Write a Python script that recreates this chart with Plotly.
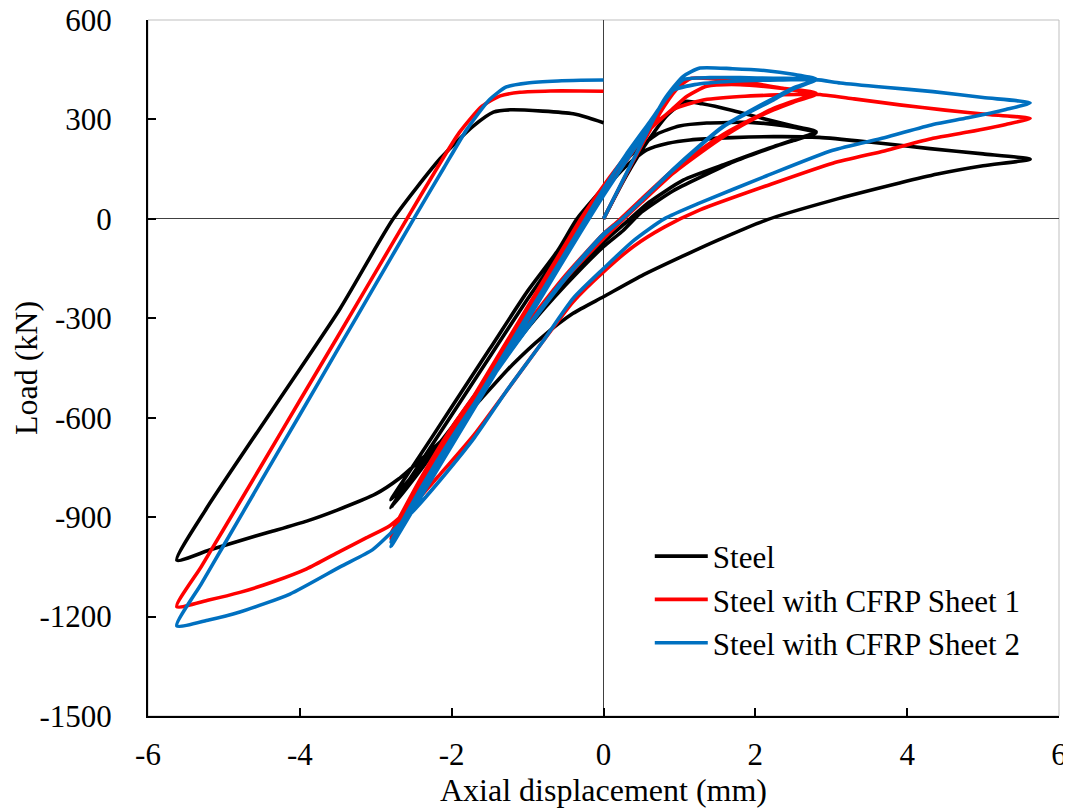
import plotly.graph_objects as go

# ---------------- data ----------------
# Steel: initial tension, two cycles at +/-2.8 mm, one cycle at +/-5.6 mm, return to 0
STEEL_X = [0, 0.3, 0.6, 0.85, 1.08, 1.3, 1.7, 2.1, 2.5, 2.8,
           2.5, 2.2, 1.71, 1.3, 0.92, 0.5, 0.26, 0, -0.5, -1.0, -1.5, -2.0, -2.4, -2.8,
           -2.5, -2.0, -1.5, -1.0, -0.6, -0.35, 0, 0.35, 0.7, 1.0, 1.36, 1.93, 2.4, 2.8,
           2.5, 2.24, 1.6, 1.05, 0.6, 0.3, 0, -0.5, -1.0, -1.5, -2.0, -2.4, -2.8,
           -2.5, -2.0, -1.5, -1.0, -0.6, -0.3, 0, 0.3, 0.57, 0.85, 1.14, 1.7, 2.24, 2.84,
           3.5, 4.3, 5.0, 5.62,
           5.0, 4.4, 3.9, 3.0, 2.15, 1.5, 1.05, 0.5, 0, -0.4, -0.8, -1.2, -1.6, -2.0, -2.4,
           -2.7, -3.0, -3.5, -3.91, -4.4, -4.79, -5.2, -5.62,
           -5.23, -4.35, -3.47, -2.77, -2.15, -1.72, -1.45, -1.23, -0.8, -0.4, -0.2, 0]
STEEL_Y = [0, 130, 240, 315, 354, 347, 327, 303, 280, 263,
           238, 214, 172, 128, 85, 20, -35, -84, -200, -330, -480, -630, -745, -848,
           -743, -568, -393, -218, -95, 0, 95, 190, 255, 280, 289, 291, 280, 260,
           236, 218, 165, 117, 50, -10, -70, -185, -320, -470, -630, -755, -872,
           -767, -592, -417, -242, -110, 0, 85, 160, 208, 228, 238, 245, 248, 246,
           232, 212, 196, 180,
           160, 135, 108, 55, -3, -65, -112, -172, -235, -285, -355, -440, -540, -640, -725,
           -785, -830, -878, -912, -945, -971, -1000, -1030,
           -874, -572, -271, 0, 182, 279, 322, 329, 325, 317, 305, 290]

CFRP1_X = [0, 0.45, 0.8, 1.0, 1.16, 1.5, 2.0, 2.4, 2.8,
           2.5, 2.24, 1.9, 1.58, 1.25, 0.92, 0.5, 0.2, 0, -0.5, -1.0, -1.5, -2.0, -2.4, -2.8,
           -2.5, -2.0, -1.5, -1.0, -0.6, -0.3, 0, 0.3, 0.6, 0.9, 1.1, 1.36, 1.8, 2.3, 2.8,
           2.5, 2.24, 1.58, 0.92, 0.5, 0.2, 0, -0.5, -1.0, -1.5, -2.0, -2.4, -2.8,
           -2.5, -2.0, -1.5, -1.0, -0.6, -0.3, 0, 0.3, 0.6, 0.92, 1.3, 1.8, 2.3, 2.8,
           3.3, 3.9, 4.5, 5.1, 5.62,
           5.3, 4.8, 4.34, 3.7, 3.02, 2.15, 1.27, 0.8, 0.39, 0, -0.4, -0.8, -1.28, -1.7,
           -2.15, -2.5, -2.81, -3.12, -3.47, -3.91, -4.35, -4.79, -5.2, -5.62,
           -5.3, -5.0, -4.5, -4.0, -3.5, -3.0, -2.59, -2.2, -1.9, -1.6, -1.36, -1.1, -0.7,
           -0.3, 0]
CFRP1_Y = [0, 200, 340, 400, 424, 421, 408, 392, 376,
           352, 329, 292, 248, 195, 138, 50, -15, -60, -180, -320, -470, -630, -780, -950,
           -836, -646, -456, -266, -114, 0, 100, 190, 268, 330, 370, 400, 405, 395, 380,
           355, 333, 255, 148, 60, -5, -45, -170, -315, -470, -635, -790, -965,
           -850, -660, -470, -280, -128, -14, 80, 175, 270, 330, 358, 369, 374, 376,
           362, 344, 328, 314, 303,
           285, 262, 243, 205, 168, 100, 27, -25, -84, -160, -250, -370, -520, -650,
           -770, -860, -925, -962, -1003, -1056, -1095, -1127, -1150, -1170,
           -1050, -935, -742, -548, -355, -160, 0, 150, 260, 340, 371, 382, 386,
           386, 385]

CFRP2_X = [0, 0.45, 0.8, 1.05, 1.27, 1.7, 2.15, 2.5, 2.8,
           2.5, 2.24, 1.9, 1.58, 1.25, 0.92, 0.5, 0.2, 0, -0.5, -1.0, -1.5, -2.0, -2.4, -2.8,
           -2.5, -2.0, -1.5, -1.0, -0.6, -0.3, 0, 0.3, 0.6, 0.85, 1.05, 1.4, 1.8, 2.24, 2.8,
           2.5, 2.24, 1.58, 0.92, 0.5, 0.2, 0, -0.5, -1.0, -1.5, -2.0, -2.4, -2.8,
           -2.5, -2.0, -1.5, -1.0, -0.6, -0.3, 0, 0.3, 0.6, 0.88, 1.2, 1.7, 2.3, 2.8,
           3.12, 3.7, 4.34, 5.0, 5.62,
           5.3, 4.8, 4.34, 3.7, 3.02, 2.15, 1.27, 0.8, 0.4, 0, -0.4, -0.8, -1.28, -1.7,
           -2.15, -2.5, -2.81, -3.04, -3.47, -4.13, -4.79, -5.2, -5.62,
           -5.3, -5.0, -4.5, -4.0, -3.5, -3.0, -2.5, -2.1, -1.8, -1.5, -1.28, -1.0, -0.6,
           -0.3, 0]
CFRP2_Y = [0, 205, 360, 430, 455, 453, 447, 436, 422,
           395, 364, 322, 280, 218, 150, 55, -10, -50, -180, -330, -490, -660, -810, -975,
           -861, -671, -481, -291, -139, -25, 90, 195, 290, 370, 420, 426, 426, 424, 420,
           392, 359, 278, 148, 55, -10, -45, -175, -325, -490, -665, -820, -989,
           -875, -685, -495, -305, -153, -40, 70, 175, 280, 384, 405, 415, 419, 420,
           410, 397, 384, 366, 350,
           330, 305, 285, 245, 207, 130, 48, 0, -65, -150, -240, -370, -520, -660,
           -788, -880, -950, -998, -1050, -1132, -1186, -1210, -1228,
           -1102, -984, -787, -591, -394, -197, 0, 155, 270, 360, 398, 410, 416,
           418, 419]

SERIES_NAMES = ["Steel", "Steel with CFRP Sheet 1", "Steel with CFRP Sheet 2"]
SERIES_COLORS = ["#000000", "#FF0000", "#0070C0"]

X_TICKS = [-6, -4, -2, 0, 2, 4, 6]
X_TICK_LABELS = ["-6", "-4", "-2", "0", "2", "4", "6"]
Y_TICKS = [-1500, -1200, -900, -600, -300, 0, 300, 600]
Y_TICK_LABELS = ["-1500", "-1200", "-900", "-600", "-300", "0", "300", "600"]

X_TITLE = "Axial displacement (mm)"
Y_TITLE = "Load (kN)"

# ---------------- figure ----------------
FONT = "Liberation Serif, Times New Roman, serif"

fig = go.Figure()
for xs, ys, name, color in zip([STEEL_X, CFRP1_X, CFRP2_X],
                               [STEEL_Y, CFRP1_Y, CFRP2_Y],
                               SERIES_NAMES, SERIES_COLORS):
    fig.add_trace(go.Scatter(
        x=xs, y=ys, mode="lines", name=name,
        line=dict(color=color, width=3.6, shape="spline", smoothing=0.6),
    ))

# the page body adds an 8 px offset, so the figure is 8 px smaller on each axis
fig.update_layout(
    width=1063, height=802,
    margin=dict(l=140, r=12, t=12, b=94),
    paper_bgcolor="white", plot_bgcolor="white",
    font=dict(family=FONT, size=31, color="black"),
    showlegend=True,
    legend=dict(
        x=0.5508, y=0.268, xanchor="left", yanchor="top",
        bgcolor="rgba(0,0,0,0)", borderwidth=0,
        font=dict(family=FONT, size=31, color="black"),
        itemwidth=53, tracegroupgap=0,
    ),
    shapes=[dict(type="rect", xref="paper", yref="paper", x0=0, y0=0, x1=1, y1=1,
                 line=dict(color="#BFBFBF", width=1), layer="below")],
)

fig.update_xaxes(
    range=[-6, 6], tickvals=X_TICKS, ticktext=X_TICK_LABELS, automargin=False,
    showgrid=False, zeroline=True, zerolinecolor="#404040", zerolinewidth=1,
    showline=True, linecolor="black", linewidth=2,
    ticks="inside", ticklen=8, tickwidth=1.5, tickcolor="black",
    ticklabelstandoff=10, ticklabeloverflow="allow",
    title=dict(text=X_TITLE, font=dict(family=FONT, size=32), standoff=5),
    tickfont=dict(family=FONT, size=31),
)
fig.update_yaxes(
    range=[-1500, 600], tickvals=Y_TICKS, ticktext=Y_TICK_LABELS, automargin=False,
    showgrid=False, zeroline=True, zerolinecolor="#404040", zerolinewidth=1,
    showline=True, linecolor="black", linewidth=2,
    ticks="inside", ticklen=8, tickwidth=1.5, tickcolor="black",
    ticklabelstandoff=28, ticklabeloverflow="allow",
    title=dict(text=Y_TITLE, font=dict(family=FONT, size=32), standoff=4),
    tickfont=dict(family=FONT, size=31),
)

fig.write_html("out.html")
